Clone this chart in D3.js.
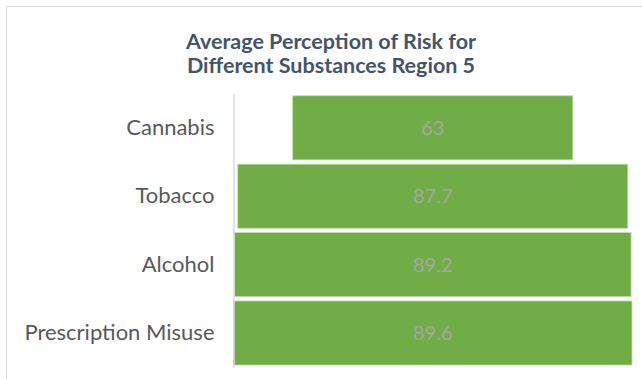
<!DOCTYPE html>
<html>
<head>
<meta charset="utf-8">
<script src="https://cdn.jsdelivr.net/npm/d3@7"></script>
<style>
  html, body { margin: 0; padding: 0; background: #ffffff; }
  svg { display: block; }
</style>
</head>
<body>
<svg id="chart" width="642" height="379"></svg>
<script>
// Substances and their average perceived risk scores
const categories = ["Cannabis", "Tobacco", "Alcohol", "Prescription Misuse"];
const values = [63, 87.7, 89.2, 89.6];
const valueLabels = ["63", "87.7", "89.2", "89.6"];
const titleLines = ["Average Perception of Risk for", "Different Substances Region 5"];

const W = 642, H = 379;
const svg = d3.select("#chart");
const fontFamily = "Lato, 'Noto Sans', sans-serif";

// Chart frame
svg.append("rect")
  .attr("x", 6.5).attr("y", 6.5)
  .attr("width", W).attr("height", H)
  .attr("fill", "#ffffff")
  .attr("stroke", "#d9d9d9")
  .attr("stroke-width", 1);

// Title
svg.append("g")
  .selectAll("text")
  .data(titleLines)
  .join("text")
  .attr("x", 331)
  .attr("y", (d, i) => 49 + i * 23.5)
  .attr("text-anchor", "middle")
  .attr("font-family", fontFamily)
  .attr("font-weight", "bold")
  .attr("font-size", "21.5px")
  .attr("fill", "#44546a")
  .text(d => d);

// Plot area
const plotLeft = 233.5, plotRight = 632;
const center = (plotLeft + plotRight) / 2;

const y = d3.scaleBand()
  .domain(categories)
  .range([93.6, 367.2])
  .paddingInner(0.0625)
  .paddingOuter(0.03125);

const w = d3.scaleLinear()
  .domain([0, d3.max(values)])
  .range([0, plotRight - plotLeft]);

const data = categories.map((c, i) => ({ cat: c, value: values[i], label: valueLabels[i] }));

// Funnel bars, centred on the plot
svg.append("g")
  .selectAll("rect")
  .data(data)
  .join("rect")
  .attr("x", d => center - w(d.value) / 2)
  .attr("y", d => y(d.cat))
  .attr("width", d => w(d.value))
  .attr("height", y.bandwidth())
  .attr("fill", "#70ad47")
  .attr("stroke", "#c5e0b4")
  .attr("stroke-width", 0.8);

// Value labels
svg.append("g")
  .selectAll("text")
  .data(data)
  .join("text")
  .attr("x", center)
  .attr("y", d => y(d.cat) + y.bandwidth() / 2)
  .attr("dy", "0.35em")
  .attr("text-anchor", "middle")
  .attr("font-family", fontFamily)
  .attr("font-size", "20px")
  .attr("fill", "#a6a6a6")
  .text(d => d.label);

// Category axis
const axis = svg.append("g")
  .attr("transform", `translate(${plotLeft},0)`)
  .call(d3.axisLeft(y).tickSize(0).tickPadding(19));

axis.select(".domain")
  .attr("stroke", "#d9d9d9")
  .attr("stroke-width", 1.5);

axis.selectAll(".tick text")
  .attr("font-family", fontFamily)
  .attr("font-size", "22px")
  .attr("fill", "#595959");
</script>
</body>
</html>
